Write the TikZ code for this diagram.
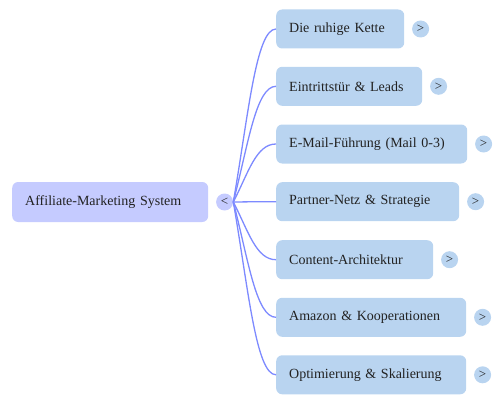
\documentclass[tikz,border=0pt]{standalone}
\usepackage{fontspec}
\setmainfont{Liberation Serif}
\usetikzlibrary{positioning}
\usetikzlibrary{calc}
\definecolor{mroot}{RGB}{197,203,255}
\definecolor{mleaf}{RGB}{185,212,240}
\definecolor{mlink}{RGB}{125,138,255}
\definecolor{mtext}{RGB}{34,34,34}
\tikzset{box/.style = {rounded corners=6pt, inner xsep=13pt, minimum height=39pt, align=left,
                       text=mtext, font=\fontsize{14}{16}\selectfont, anchor=west}}
\tikzset{tog/.style = {circle, inner sep=0, minimum size=17pt, text=mtext,
                       font=\fontsize{13}{14}\selectfont}}
\tikzset{link/.style = {mlink, line width=1.3pt}}

\begin{document}
\begin{tikzpicture}[x=1pt, y=-1pt]
  \useasboundingbox (0,0) rectangle (503,404);

  \node [box, fill=mroot, text width=170pt, minimum height=40pt] (root) at (12,202) {Affiliate-Marketing System};
  \node [tog, fill=mroot, right=7.5pt of root] (root-tog) {<};

  \foreach \i/\y/\w/\txt [evaluate=\w as \tw using \w-26] in
      {1/29/128/Die ruhige Kette,
       2/86.3/146/Eintrittstür \& Leads,
       3/144/191/E-Mail-Führung (Mail 0-3),
       4/201.7/183/Partner-Netz \& Strategie,
       5/259.7/157/Content-Architektur,
       6/317.3/190/Amazon \& Kooperationen,
       7/374.8/190/Optimierung \& Skalierung}
  {
    \node [box, fill=mleaf, text width=\tw pt] (c\i) at (276,\y) {\txt};
    \node [tog, fill=mleaf, right=7.5pt of c\i] (t\i) {>};
    \draw [link] (root-tog.east) .. controls ($(root-tog.east)!0.5!(root-tog.east |- c\i.west) + (15,0)$)
                                 and ($(c\i.west) + (-20,0)$) .. (c\i.west);
  }
\end{tikzpicture}
\end{document}
